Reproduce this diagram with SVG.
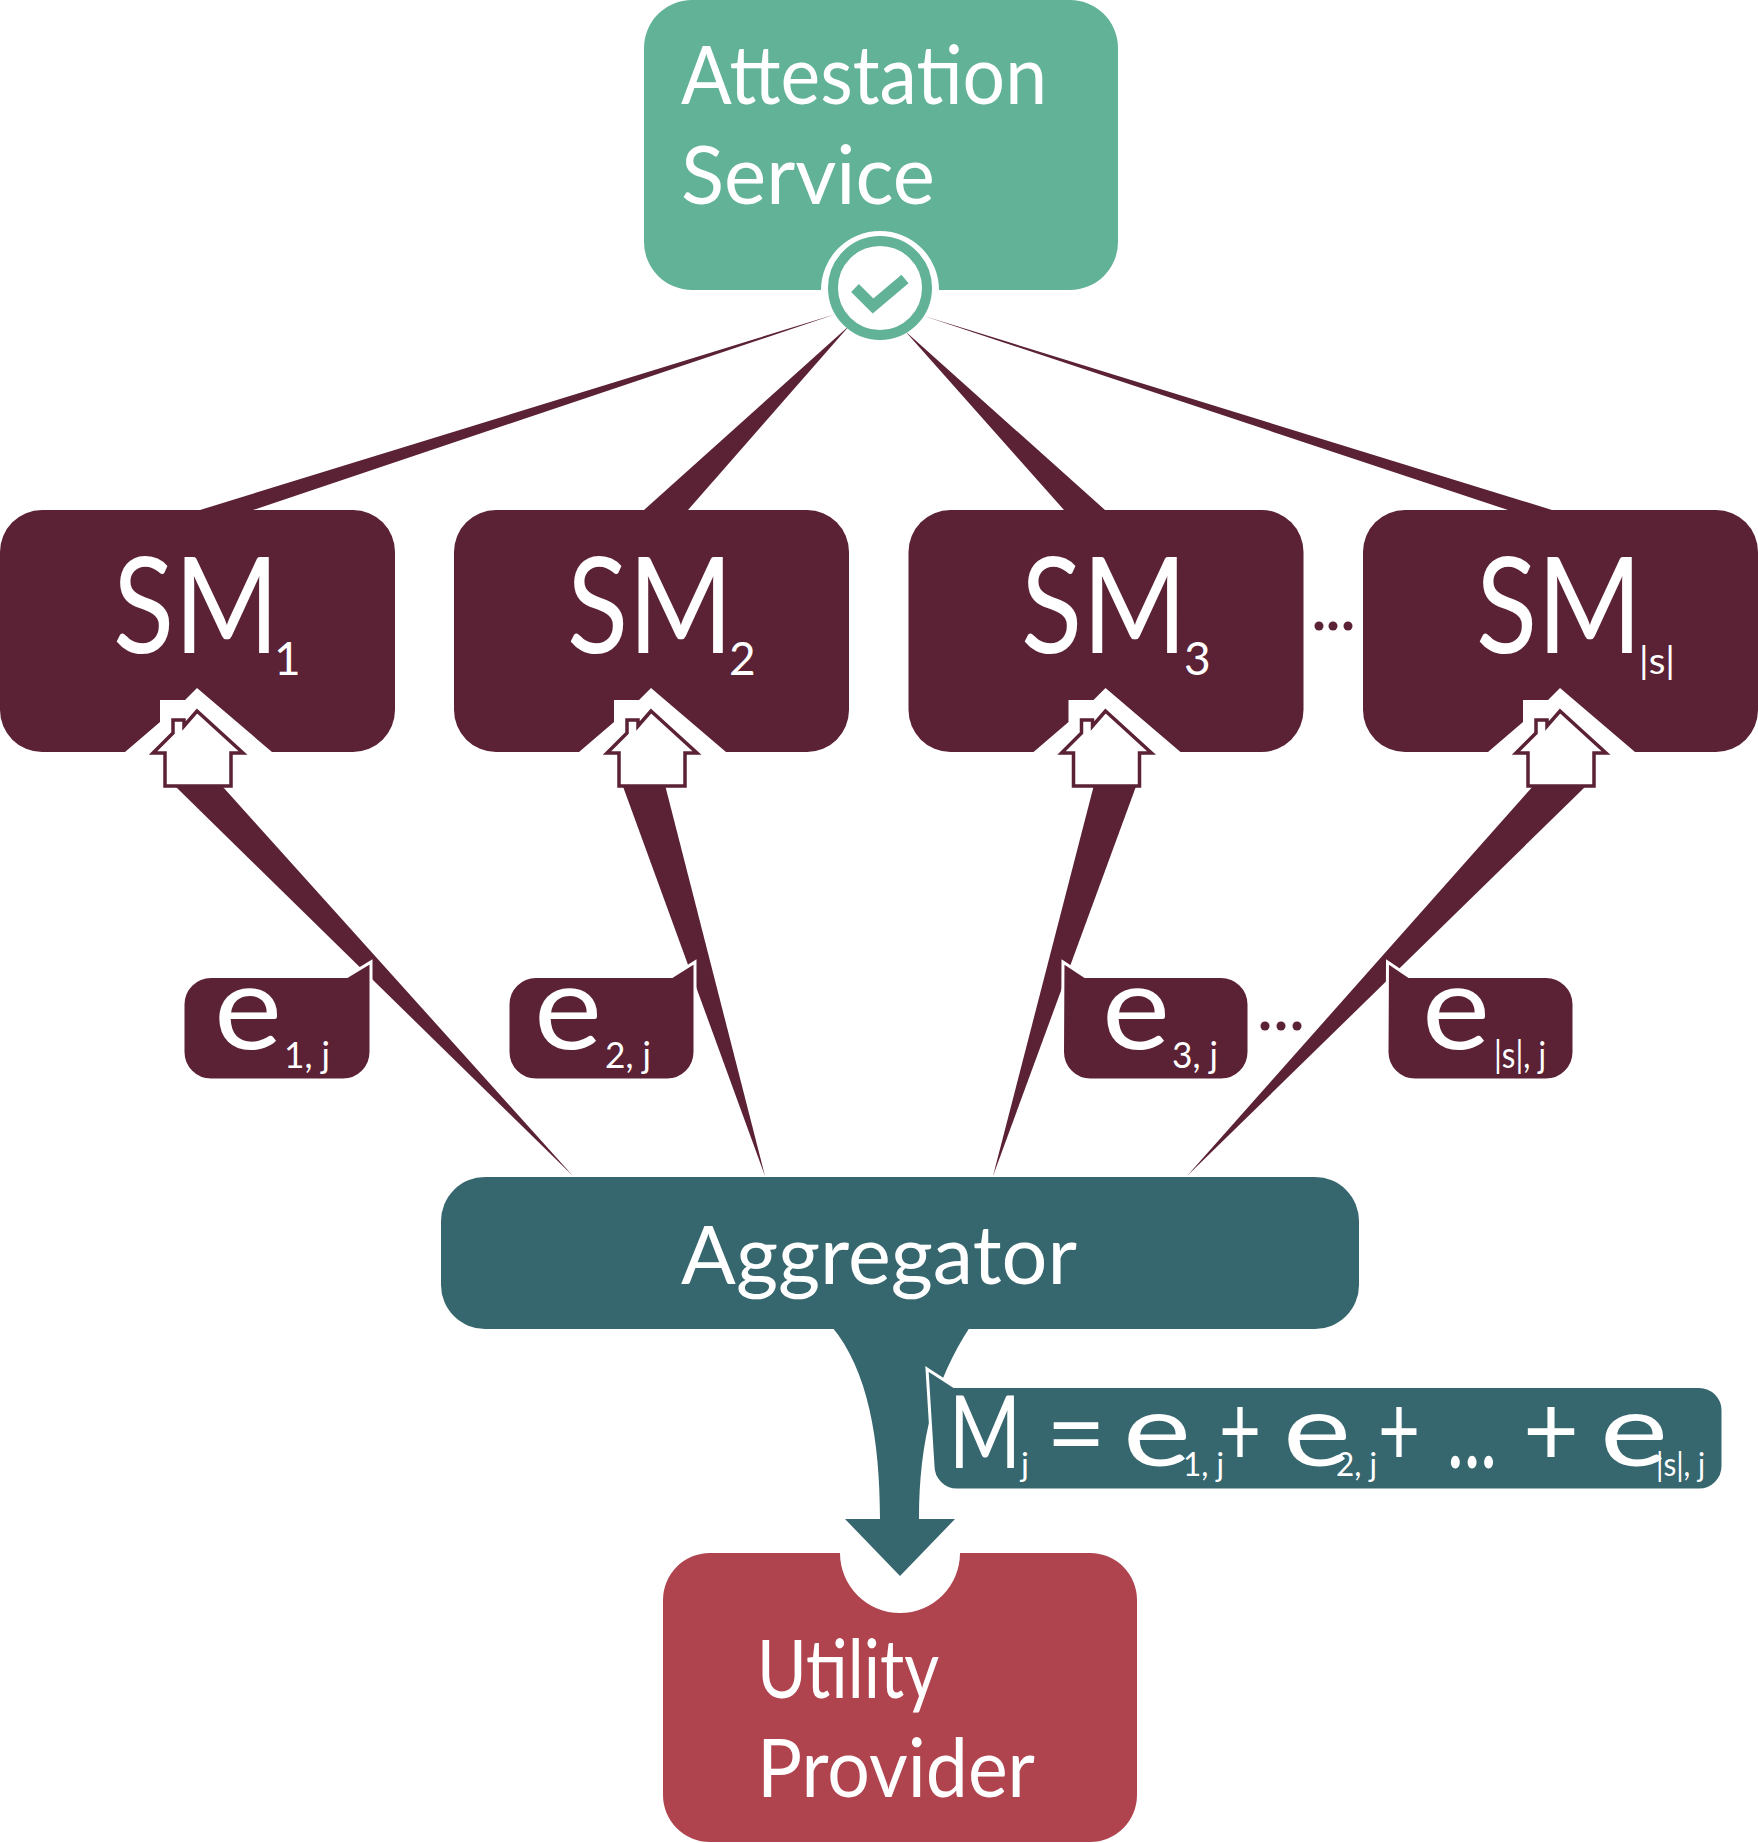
<svg xmlns="http://www.w3.org/2000/svg" width="1758" height="1843" viewBox="0 0 1758 1843">
<style>
text{font-family:"Lato","Noto Sans",sans-serif;fill:#fff;font-weight:400}
.t{font-size:82px}
.sm{font-size:133px}
.sub{font-size:46px}
.e{font-size:118px}
.s{font-size:36px}
.m{fill:#5b2135}
.dot{fill:#5b2135}
.halo{fill:#fff}
.house{fill:#fff;stroke:#5b2135;stroke-width:3.5}
.bub{fill:#5b2135;stroke:#fff;stroke-width:3}
.eq{font-size:100px}
.es{font-size:33px}
</style>
<defs>
<g id="smbox">
<rect class="m" x="0" y="510" width="395" height="242" rx="42"/>
<path class="halo" d="M125,752L160,722V700H185L197,688L272,752Z"/>
<path class="house" d="M197,711L243,753H231V786H165V753H153L173,733V720H184V726Z"/>
</g>
</defs>
<g id="connectors">
<path class="m" d="M836,314L253,510H200Z"/>
<path class="m" d="M850,325L688,510H644Z"/>
<path class="m" d="M905,331L1105,510H1064Z"/>
<path class="m" d="M924,316L1552,510H1508Z"/>
<path class="m" d="M573,1176L223,787H176Z"/>
<path class="m" d="M765,1176L664,781H621Z"/>
<path class="m" d="M993,1176L1138,781H1095Z"/>
<path class="m" d="M1187,1176L1587,785H1534Z"/>
<path fill="#36666e" d="M832,1327C868,1370 880,1440 880,1519H845L900,1576L955,1519H919C919,1440 935,1380 970,1327Z"/>
</g>
<g id="attestation">
<path fill="#62b298" d="M692,0H1070A48,48 0 0 1 1118,48V242A48,48 0 0 1 1070,290H939A59,59 0 0 0 821,290H692A48,48 0 0 1 644,242V48A48,48 0 0 1 692,0Z"/>
<circle cx="880" cy="288" r="47" fill="#fff" stroke="#62b298" stroke-width="10"/>
<path d="M855,288L873,306L905,279" fill="none" stroke="#62b298" stroke-width="11"/>
<text class="t" x="681" y="104" textLength="366" lengthAdjust="spacingAndGlyphs">Attestation</text>
<text class="t" x="681" y="204" textLength="254" lengthAdjust="spacingAndGlyphs">Service</text>
</g>
<g id="sm1">
<use href="#smbox"/>
<text class="sm" x="113" y="653"><tspan textLength="166" lengthAdjust="spacingAndGlyphs">SM</tspan><tspan class="sub" x="274" y="675">1</tspan></text>
</g>
<g id="sm2">
<use href="#smbox" x="454"/>
<text class="sm" x="567" y="653"><tspan textLength="166" lengthAdjust="spacingAndGlyphs">SM</tspan><tspan class="sub" x="729" y="675">2</tspan></text>
</g>
<g id="sm3">
<use href="#smbox" x="908.5"/>
<text class="sm" x="1021" y="653"><tspan textLength="166" lengthAdjust="spacingAndGlyphs">SM</tspan><tspan class="sub" x="1184" y="675">3</tspan></text>
</g>
<g id="sm4">
<use href="#smbox" x="1363"/>
<text class="sm" x="1476" y="653"><tspan textLength="166" lengthAdjust="spacingAndGlyphs">SM</tspan><tspan class="s" x="1639" y="674" textLength="36" lengthAdjust="spacingAndGlyphs" font-size="32">|s|</tspan></text>
</g>
<g id="dots-sm">
<circle class="dot" cx="1319" cy="626" r="4.5"/><circle class="dot" cx="1333" cy="626" r="4.5"/><circle class="dot" cx="1348" cy="626" r="4.5"/>
</g>
<g id="e1">
<path class="bub" d="M212,976.5H347L371,962V1052A28,28 0 0 1 343,1080H211A28,28 0 0 1 183,1052V1004.5A28,28 0 0 1 211,976.5Z"/>
<text class="e" x="214" y="1049"><tspan textLength="68" lengthAdjust="spacingAndGlyphs">e</tspan><tspan class="s" x="284" y="1068" textLength="46" lengthAdjust="spacingAndGlyphs">1, j</tspan></text>
</g>
<g id="e2">
<path class="bub" d="M536,976.5H672L695,962V1052A28,28 0 0 1 667,1080H536A28,28 0 0 1 508,1052V1004.5A28,28 0 0 1 536,976.5Z"/>
<text class="e" x="534" y="1049"><tspan textLength="68" lengthAdjust="spacingAndGlyphs">e</tspan><tspan class="s" x="605" y="1068" textLength="46" lengthAdjust="spacingAndGlyphs">2, j</tspan></text>
</g>
<g id="e3">
<path class="bub" d="M1063,962L1085,976.5H1221A28,28 0 0 1 1249,1004.5V1052A28,28 0 0 1 1221,1080H1090.5A28,28 0 0 1 1062.5,1052Z"/>
<text class="e" x="1102" y="1049"><tspan textLength="68" lengthAdjust="spacingAndGlyphs">e</tspan><tspan class="s" x="1172" y="1068" textLength="46" lengthAdjust="spacingAndGlyphs">3, j</tspan></text>
</g>
<g id="e4">
<path class="bub" d="M1387.5,962L1409,976.5H1546A28,28 0 0 1 1574,1004.5V1052A28,28 0 0 1 1546,1080H1415A28,28 0 0 1 1387,1052Z"/>
<text class="e" x="1422" y="1049"><tspan textLength="68" lengthAdjust="spacingAndGlyphs">e</tspan><tspan class="s" x="1494" y="1068" textLength="52" lengthAdjust="spacingAndGlyphs">|s|, j</tspan></text>
</g>
<g id="dots-e">
<circle class="dot" cx="1265" cy="1026" r="4.5"/><circle class="dot" cx="1281" cy="1026" r="4.5"/><circle class="dot" cx="1297" cy="1026" r="4.5"/>
</g>
<g id="aggregator">
<rect x="441" y="1177" width="918" height="152" rx="44" fill="#36666e"/>
<text class="t" x="681" y="1284" textLength="396" lengthAdjust="spacingAndGlyphs">Aggregator</text>
</g>
<g id="equation">
<path fill="#36666e" stroke="#fff" stroke-width="3" d="M927,1369L954,1386.5H1699A24,24 0 0 1 1723,1410.5V1466A24,24 0 0 1 1699,1490H957A24,24 0 0 1 933,1466Z"/>
<text class="eq" x="949" y="1468"><tspan textLength="72" lengthAdjust="spacingAndGlyphs">M</tspan><tspan class="es" x="1021" y="1476">j</tspan><tspan x="1046" y="1468" textLength="60" lengthAdjust="spacingAndGlyphs">=</tspan><tspan x="1123" y="1466" textLength="68" lengthAdjust="spacingAndGlyphs">e</tspan><tspan class="es" x="1183" y="1476" textLength="41" lengthAdjust="spacingAndGlyphs">1, j</tspan><tspan x="1219" y="1466" textLength="42" lengthAdjust="spacingAndGlyphs">+</tspan><tspan x="1283" y="1466" textLength="68" lengthAdjust="spacingAndGlyphs">e</tspan><tspan class="es" x="1336" y="1476" textLength="41" lengthAdjust="spacingAndGlyphs">2, j</tspan><tspan x="1378" y="1466" textLength="42" lengthAdjust="spacingAndGlyphs">+</tspan><tspan x="1447" y="1468" textLength="50" lengthAdjust="spacingAndGlyphs">...</tspan><tspan x="1523" y="1466" textLength="56" lengthAdjust="spacingAndGlyphs">+</tspan><tspan x="1600" y="1466" textLength="68" lengthAdjust="spacingAndGlyphs">e</tspan><tspan class="es" x="1656" y="1476" textLength="49" font-size="28" lengthAdjust="spacingAndGlyphs">|s|, j</tspan></text>
</g>
<g id="utility">
<path fill="#af434e" d="M708,1553H840A60,60 0 0 0 960,1553H1090A47,47 0 0 1 1137,1600V1795A47,47 0 0 1 1090,1842H710A47,47 0 0 1 663,1795V1600A47,47 0 0 1 710,1553Z"/>
<text class="t" x="757" y="1698" textLength="182" lengthAdjust="spacingAndGlyphs">Utility</text>
<text class="t" x="757" y="1797" textLength="278" lengthAdjust="spacingAndGlyphs">Provider</text>
</g>
</svg>
